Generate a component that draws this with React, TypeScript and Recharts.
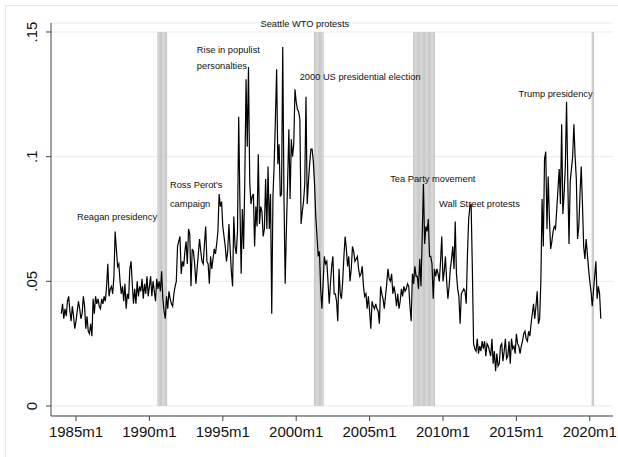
import React from 'react'
import { CartesianGrid, ComposedChart, Line, ReferenceArea, ReferenceDot, XAxis, YAxis } from 'recharts'

// monthly series, first value is 1984m1
const firstMonth = '1984m1'

const share1984to1989 = [
  0.037, 0.041, 0.035, 0.039, 0.036, 0.042, 0.044, 0.038, 0.034, 0.040, 0.036, 0.031,
  0.034, 0.038, 0.042, 0.039, 0.035, 0.037, 0.044, 0.040, 0.031, 0.036, 0.030, 0.029,
  0.033, 0.028, 0.043, 0.037, 0.044, 0.041, 0.043, 0.040, 0.039, 0.043, 0.041, 0.044,
  0.042, 0.048, 0.057, 0.044, 0.047, 0.048, 0.045, 0.052, 0.070, 0.063, 0.056, 0.057,
  0.050, 0.045, 0.048, 0.042, 0.049, 0.039, 0.045, 0.043, 0.055, 0.058, 0.049, 0.041,
  0.047, 0.041, 0.050, 0.044, 0.048, 0.046, 0.051, 0.043, 0.049, 0.045, 0.052, 0.044,
]

const share1990to1999 = [
  0.048, 0.052, 0.044, 0.050, 0.046, 0.042, 0.051, 0.047, 0.050, 0.046, 0.054, 0.043,
  0.038, 0.035, 0.044, 0.039, 0.046, 0.043, 0.041, 0.040, 0.045, 0.048, 0.050, 0.064,
  0.066, 0.068, 0.053, 0.058, 0.056, 0.062, 0.066, 0.057, 0.071, 0.069, 0.048, 0.063,
  0.062, 0.057, 0.049, 0.055, 0.061, 0.067, 0.062, 0.058, 0.057, 0.065, 0.072, 0.058,
  0.057, 0.049, 0.060, 0.055, 0.059, 0.063, 0.061, 0.065, 0.070, 0.085, 0.080, 0.082,
  0.072, 0.068, 0.064, 0.058, 0.062, 0.073, 0.063, 0.054, 0.048, 0.076, 0.064, 0.061,
  0.070, 0.116, 0.081, 0.053, 0.079, 0.063, 0.091, 0.131, 0.104, 0.136, 0.090, 0.081,
  0.084, 0.085, 0.064, 0.080, 0.072, 0.101, 0.073, 0.080, 0.078, 0.068, 0.071, 0.091,
  0.071, 0.096, 0.071, 0.085, 0.037, 0.084, 0.097, 0.115, 0.135, 0.097, 0.105, 0.084,
  0.085, 0.144, 0.084, 0.049, 0.071, 0.090, 0.111, 0.083, 0.107, 0.100, 0.105, 0.127,
]

const share2000to2009 = [
  0.122, 0.119, 0.118, 0.115, 0.073, 0.078, 0.082, 0.089, 0.124, 0.081, 0.090, 0.097,
  0.103, 0.103, 0.098, 0.089, 0.076, 0.068, 0.060, 0.062, 0.047, 0.039, 0.049, 0.060,
  0.057, 0.058, 0.050, 0.041, 0.049, 0.056, 0.060, 0.045, 0.045, 0.042, 0.034, 0.055,
  0.045, 0.043, 0.050, 0.060, 0.068, 0.063, 0.056, 0.060, 0.050, 0.055, 0.064, 0.062,
  0.058, 0.059, 0.060, 0.055, 0.052, 0.053, 0.056, 0.048, 0.044, 0.045, 0.039, 0.044,
  0.038, 0.031, 0.042, 0.040, 0.039, 0.041, 0.039, 0.038, 0.033, 0.048, 0.045, 0.043,
  0.039, 0.044, 0.049, 0.055, 0.051, 0.050, 0.053, 0.045, 0.048, 0.045, 0.040, 0.045,
  0.039, 0.042, 0.047, 0.044, 0.048, 0.046, 0.047, 0.049, 0.048, 0.040, 0.034, 0.053,
  0.049, 0.056, 0.052, 0.052, 0.047, 0.059, 0.048, 0.068, 0.089, 0.065, 0.072, 0.070,
  0.075, 0.060, 0.060, 0.057, 0.043, 0.055, 0.052, 0.055, 0.053, 0.050, 0.058, 0.068,
]

const share2010to2020 = [
  0.050, 0.054, 0.060, 0.050, 0.043, 0.048, 0.055, 0.059, 0.064, 0.055, 0.074, 0.053,
  0.047, 0.044, 0.033, 0.045, 0.046, 0.047, 0.046, 0.041, 0.061, 0.075, 0.080, 0.081,
  0.055, 0.025, 0.023, 0.022, 0.027, 0.021, 0.024, 0.022, 0.026, 0.023, 0.026, 0.020,
  0.025, 0.024, 0.022, 0.020, 0.027, 0.017, 0.022, 0.014, 0.021, 0.016, 0.017, 0.024,
  0.025, 0.018, 0.022, 0.027, 0.019, 0.020, 0.026, 0.017, 0.027, 0.023, 0.024, 0.021,
  0.029, 0.025, 0.024, 0.021, 0.024, 0.026, 0.029, 0.030, 0.027, 0.026, 0.030, 0.028,
  0.033, 0.037, 0.041, 0.035, 0.040, 0.046, 0.033, 0.035, 0.050, 0.083, 0.064, 0.099,
  0.102, 0.071, 0.092, 0.075, 0.063, 0.066, 0.070, 0.072, 0.071, 0.079, 0.087, 0.095,
  0.081, 0.113, 0.077, 0.085, 0.096, 0.122, 0.091, 0.065, 0.090, 0.095, 0.100, 0.113,
  0.100, 0.091, 0.067, 0.072, 0.085, 0.096, 0.081, 0.064, 0.059, 0.067, 0.061, 0.055,
  0.050, 0.046, 0.040, 0.046, 0.052, 0.058, 0.043, 0.048, 0.045, 0.035,
]

const xTicks = ['1985m1', '1990m1', '1995m1', '2000m1', '2005m1', '2010m1', '2015m1', '2020m1']
const yTicks = [0, 0.05, 0.1, 0.15]

// NBER recession months
const recessionStart = ['1990m8', '2001m4', '2008m1', '2020m3']
const recessionEnd = ['1991m3', '2001m11', '2009m6', '2020m4']

const notes = [
  { text: 'Reagan presidency', at: '1985m2', y: 0.0746 },
  { text: "Ross Perot's", at: '1991m6', y: 0.0874 },
  { text: 'campaign', at: '1991m6', y: 0.0798 },
  { text: 'Rise in populist', at: '1993m4', y: 0.1417 },
  { text: 'personalties', at: '1993m4', y: 0.1351 },
  { text: 'Seattle WTO protests', at: '1997m8', y: 0.1521 },
  { text: '2000 US presidential election', at: '2000m4', y: 0.1308 },
  { text: 'Tea Party movement', at: '2006m6', y: 0.09 },
  { text: 'Wall Street protests', at: '2009m10', y: 0.0799 },
  { text: 'Trump presidency', at: '2015m3', y: 0.1241 },
]

const font = '"Liberation Sans", Arial, Helvetica, sans-serif'

const toIndex = (s: string) => {
  const [yr, mo] = s.split('m').map(Number)
  return (yr - 1985) * 12 + (mo - 1)
}

const start = toIndex(firstMonth)
const data = [...share1984to1989, ...share1990to1999, ...share2000to2009, ...share2010to2020].map((v, i) => ({
  t: start + i,
  share: v,
}))

const recessionMonths: number[] = []
recessionStart.forEach((s, k) => {
  for (let m = toIndex(s); m <= toIndex(recessionEnd[k]); m++) recessionMonths.push(m)
})

const fmtY = (v: number) => (v === 0 ? '0' : v.toFixed(2).replace(/^0/, '').replace(/0$/, ''))

const YTick = ({ x, y, payload }: any) => {
  const tx = x - 7
  return (
    <text x={tx} y={y} transform={`rotate(-90 ${tx} ${y})`} textAnchor="middle" fontSize={15} fontFamily={font} fill="#111">
      {fmtY(payload.value)}
    </text>
  )
}

const XTick = ({ x, y, payload }: any) => (
  <text x={x} y={y + 14} textAnchor="middle" fontSize={15} fontFamily={font} fill="#111">
    {`${1985 + Math.round(payload.value / 12)}m1`}
  </text>
)

export default function App() {
  return (
    <div style={{ position: 'absolute', left: 0, top: 0, width: 618, height: 457, background: '#fff', overflow: 'hidden' }}>
      <div style={{ position: 'absolute', left: 5, top: 5, width: 640, height: 480, border: '1px solid #e4ebee' }} />
      <div style={{ position: 'absolute', left: 0, top: 0 }}>
        <ComposedChart width={618} height={457} data={data} margin={{ top: 23, right: 5, left: 0, bottom: 0 }}>
          <CartesianGrid vertical={false} stroke="#e3ecef" strokeWidth={1} />
          {recessionMonths.map((m) => (
            <ReferenceArea key={m} x1={m - 0.5} x2={m + 0.5} y1={0} y2={0.15} fill="#c9c9c9" fillOpacity={1} stroke="none" />
          ))}
          <XAxis
            dataKey="t"
            type="number"
            domain={[-20.44, 438.97]}
            allowDataOverflow
            ticks={xTicks.map(toIndex)}
            tick={<XTick />}
            tickSize={5}
            height={41}
            stroke="#444"
          />
          <YAxis
            type="number"
            domain={[-0.004, 0.1536]}
            allowDataOverflow
            ticks={yTicks}
            tick={<YTick />}
            tickSize={5}
            width={51}
            stroke="#444"
          />
          <Line type="linear" dataKey="share" stroke="#000" strokeWidth={1.2} dot={false} isAnimationActive={false} />
          {notes.map((n) => (
            <ReferenceDot
              key={n.text}
              x={toIndex(n.at) - 0.2}
              y={n.y}
              r={0}
              shape={(p: any) => (
                <text x={p.cx} y={p.cy} fontSize={9.3} fontFamily={font} fill="#111" textAnchor="start">
                  {n.text}
                </text>
              )}
            />
          ))}
        </ComposedChart>
      </div>
    </div>
  )
}
